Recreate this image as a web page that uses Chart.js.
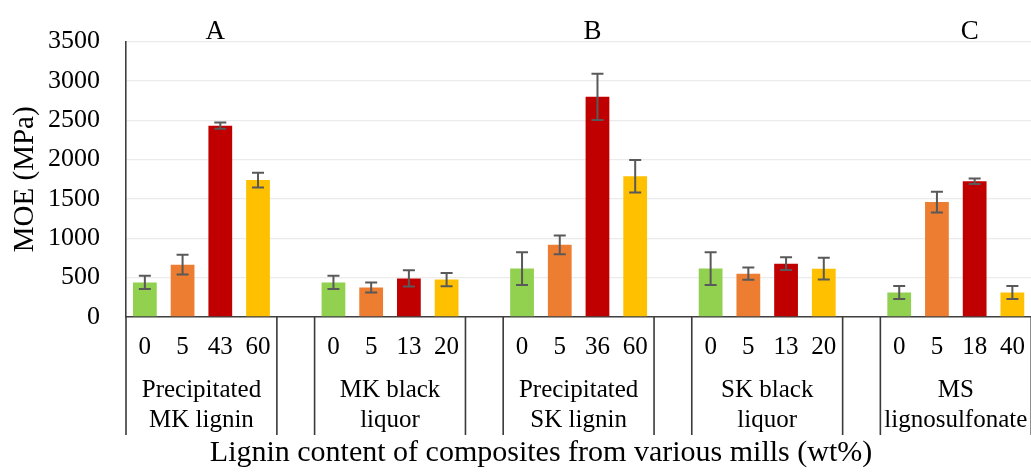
<!DOCTYPE html>
<html><head><meta charset="utf-8">
<script src="https://cdn.jsdelivr.net/npm/chart.js@4/dist/chart.umd.min.js"></script>
<style>html,body{margin:0;padding:0;background:#fff;overflow:hidden;}#wrap{width:1031px;height:474px;overflow:hidden;}</style>
</head><body><div id="wrap"><canvas id="c" width="1040" height="474"></canvas></div>
<script>
// ---- data ----
const tickLabels = ['0','5','43','60','', '0','5','13','20','', '0','5','36','60','', '0','5','13','20','', '0','5','18','40'];
const moe =    [440, 665, 2432, 1740, null, 440, 375, 490, 475, null, 615, 917, 2798, 1788, null, 615, 551, 678, 614, null, 312, 1460, 1725, 312];
const moeErr = [85, 125, 40, 93, null, 85, 65, 103, 84, null, 208, 120, 294, 206, null, 208, 78, 82, 139, null, 82, 133, 34, 82];
const groupLabels = [['Precipitated','MK lignin'],['MK black','liquor'],['Precipitated','SK lignin'],['SK black','liquor'],['MS','lignosulfonate']];
const letters = ['A','B','C'];
const letterIndex = [2, 12, 22];
const seriesColors = ['#92D050','#ED7D31','#C00000','#FFC000'];
const yAxisTitle = 'MOE (MPa)';
const xAxisTitle = 'Lignin content of composites from various mills (wt%)';

const FONT = "'Liberation Serif','Times New Roman',serif";
const barColors = tickLabels.map((_, i) => seriesColors[i % 5] || 'rgba(0,0,0,0)');

const overlay = {
  id: 'overlay',
  afterDatasetsDraw(chart) {
    const {ctx, scales: {x, y}} = chart;
    ctx.save();
    ctx.strokeStyle = '#595959';
    ctx.lineWidth = 2;
    moe.forEach((v, i) => {
      if (v == null) return;
      const e = moeErr[i];
      const px = x.getPixelForValue(i);
      const t = y.getPixelForValue(v + e), b = y.getPixelForValue(v - e);
      ctx.beginPath();
      ctx.moveTo(px, t); ctx.lineTo(px, b);
      ctx.moveTo(px - 6, t); ctx.lineTo(px + 6, t);
      ctx.moveTo(px - 6, b); ctx.lineTo(px + 6, b);
      ctx.stroke();
    });
    ctx.restore();
  },
  afterDraw(chart) {
    const {ctx, scales: {x, y}, chartArea} = chart;
    const slot = x.getPixelForValue(1) - x.getPixelForValue(0);
    const bottom = chartArea.bottom;
    ctx.save();
    ctx.strokeStyle = '#3a3a3a';
    ctx.lineWidth = 1.6;
    const sepX = [chartArea.left];
    tickLabels.forEach((l, i) => { if (l === '') { const c = x.getPixelForValue(i); sepX.push(c - slot / 2, c + slot / 2); } });
    sepX.push(x.getPixelForValue(tickLabels.length - 1) + slot / 2);
    ctx.beginPath();
    sepX.forEach(sx => { ctx.moveTo(sx, bottom); ctx.lineTo(sx, 435); });
    ctx.stroke();
    // group labels
    ctx.fillStyle = '#000';
    ctx.textAlign = 'center';
    ctx.textBaseline = 'middle';
    ctx.font = '25px ' + FONT;
    groupLabels.forEach((g, gi) => {
      const cx = (x.getPixelForValue(gi * 5) + x.getPixelForValue(gi * 5 + 3)) / 2;
      ctx.fillText(g[0], cx, 390);
      ctx.fillText(g[1], cx, 420);
    });
    // letters
    ctx.font = '27px ' + FONT;
    letters.forEach((l, k) => {
      ctx.fillText(l, x.getPixelForValue(letterIndex[k]) - 5, y.getPixelForValue(3620));
    });
    // x title
    ctx.font = '30px ' + FONT;
    ctx.fillText(xAxisTitle, 541, 453);
    ctx.restore();
  }
};

new Chart(document.getElementById('c'), {
  type: 'bar',
  data: {
    labels: tickLabels,
    datasets: [{ data: moe, backgroundColor: barColors, barPercentage: 0.63, categoryPercentage: 1 }]
  },
  options: {
    responsive: false,
    animation: false,
    events: [],
    layout: { padding: { left: 8, right: 6, top: 39, bottom: 0 } },
    plugins: { legend: { display: false }, tooltip: { enabled: false } },
    scales: {
      x: {
        grid: { display: false, drawTicks: false },
        border: { display: true, color: '#404040', width: 1.6 },
        ticks: { color: '#000', font: { family: FONT, size: 25 }, padding: 15, maxRotation: 0, autoSkip: false },
        afterFit(s) { s.height = 157; }
      },
      y: {
        min: 0, max: 3500,
        grid: { color: '#ebebeb', lineWidth: 1.3, drawTicks: false },
        border: { display: true, color: '#404040', width: 1.6 },
        ticks: { stepSize: 500, color: '#000', font: { family: FONT, size: 26 }, padding: 26, callback: v => String(v) },
        title: { display: true, text: yAxisTitle, color: '#000', font: { family: FONT, size: 29 }, padding: { top: 0, bottom: 0 } },
        afterFit(s) { s.width = 118; }
      }
    }
  },
  plugins: [overlay]
});
</script></body></html>
